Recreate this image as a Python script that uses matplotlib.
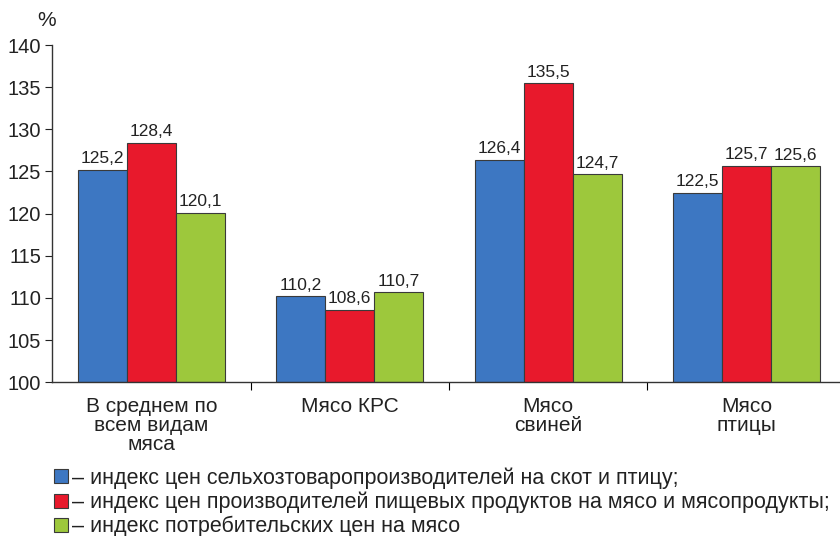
import matplotlib.pyplot as plt
import numpy as np
from matplotlib.ticker import FixedLocator, NullFormatter

plt.rcParams['font.family'] = ['Liberation Sans', 'DejaVu Sans']

# Data to plot
categories = ["В среднем по\nвсем видам\nмяса", "Мясо КРС", "Мясо\nсвиней", "Мясо\nптицы"]
series_labels = [
    "– индекс цен сельхозтоваропроизводителей на скот и птицу;",
    "– индекс цен производителей пищевых продуктов на мясо и мясопродукты;",
    "– индекс потребительских цен на мясо",
]
farm_index = [125.2, 110.2, 126.4, 122.5]
producer_index = [128.4, 108.6, 135.5, 125.7]
consumer_index = [120.1, 110.7, 124.7, 125.6]
colors = ["#3d77c2", "#e8192c", "#9dc83c"]

fig = plt.figure(figsize=(8.4, 5.36), dpi=100)
ax = fig.add_axes([0.062, 0.287, 0.938, 0.629])

x = np.arange(len(categories))
width = 0.247
series = [farm_index, producer_index, consumer_index]
handles = []
for i, vals in enumerate(series):
    pos = x + (i - 1) * width
    bars = ax.bar(pos, np.array(vals) - 100, width, bottom=100, color=colors[i],
                  edgecolor="#3a3a3a", linewidth=0.8, label=series_labels[i])
    handles.append(bars)
    for p, v in zip(pos, vals):
        ax.text(p, v + 0.4, f"{v:.1f}".replace(".", ","), ha="center", va="bottom",
                fontsize=12.5, color="#222222")

ax.set_ylim(100, 140)
ax.set_xlim(-0.5, 3.47)
ax.set_yticks(range(100, 141, 5))
ax.tick_params(axis="y", labelsize=14.5, length=5, direction="out", pad=3, colors="#222222")

# category boundaries get ticks, labels sit at centres
ax.xaxis.set_major_locator(FixedLocator([0.5, 1.5, 2.5]))
ax.xaxis.set_major_formatter(NullFormatter())
ax.xaxis.set_minor_locator(FixedLocator(x))
ax.set_xticklabels(categories, minor=True)
ax.tick_params(axis="x", which="major", length=6, direction="out")
ax.tick_params(axis="x", which="minor", length=0, labelsize=15, pad=11, colors="#222222")
for lbl in ax.get_xticklabels(minor=True):
    lbl.set_linespacing(1.0)

for s in ["top", "right"]:
    ax.spines[s].set_visible(False)
for s in ["left", "bottom"]:
    ax.spines[s].set_color("#333333")
    ax.spines[s].set_linewidth(1.0)

fig.text(0.044, 0.952, "%", fontsize=15, color="#222222")

fig.legend(handles=handles, loc="upper left", bbox_to_anchor=(0.064, 0.128),
           frameon=False, fontsize=15.5, handlelength=0.64, handleheight=0.64,
           handletextpad=0.23, labelspacing=0.13, borderaxespad=0, borderpad=0,
           labelcolor="#222222")

plt.savefig("out.png", dpi=100)
